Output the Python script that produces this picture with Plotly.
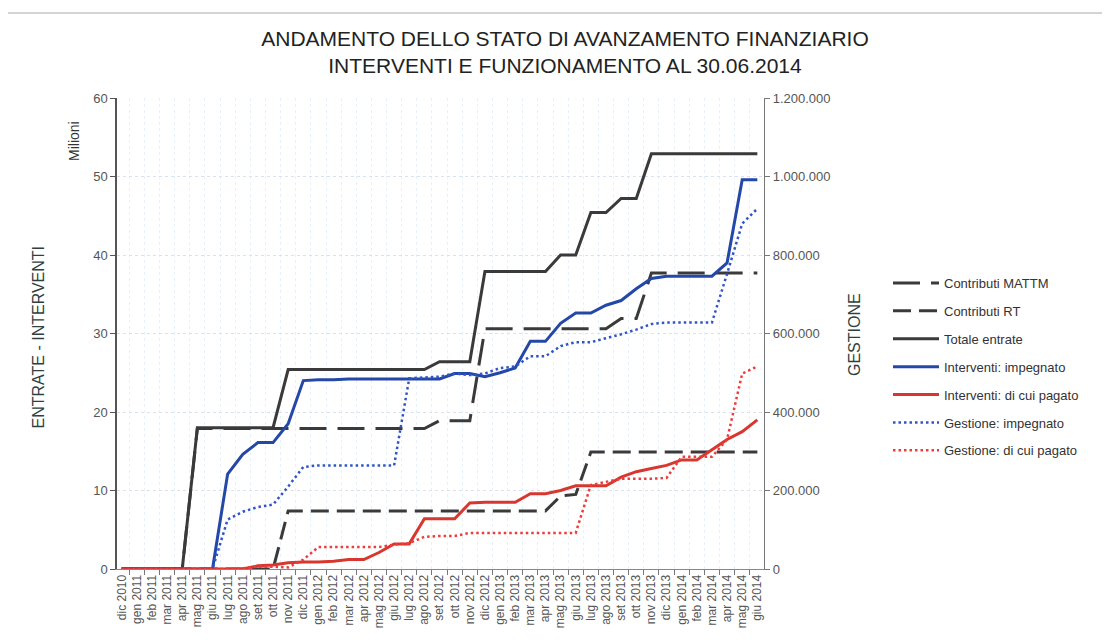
import plotly.graph_objects as go

months = ["dic 2010", "gen 2011", "feb 2011", "mar 2011", "apr 2011", "mag 2011", "giu 2011",
          "lug 2011", "ago 2011", "set 2011", "ott 2011", "nov 2011", "dic 2011",
          "gen 2012", "feb 2012", "mar 2012", "apr 2012", "mag 2012", "giu 2012",
          "lug 2012", "ago 2012", "set 2012", "ott 2012", "nov 2012", "dic 2012",
          "gen 2013", "feb 2013", "mar 2013", "apr 2013", "mag 2013", "giu 2013",
          "lug 2013", "ago 2013", "set 2013", "ott 2013", "nov 2013", "dic 2013",
          "gen 2014", "feb 2014", "mar 2014", "apr 2014", "mag 2014", "giu 2014"]

# Left axis (milioni)
contributi_mattm = [0, 0, 0, 0, 0, 17.9, 17.9, 17.9, 17.9, 17.9, 17.9, 17.9, 17.9,
                    17.9, 17.9, 17.9, 17.9, 17.9, 17.9, 17.9, 17.9, 18.9, 18.9, 18.9, 30.6,
                    30.6, 30.6, 30.6, 30.6, 30.6, 30.6, 30.6, 30.6, 31.9, 31.9, 37.7, 37.7,
                    37.7, 37.7, 37.7, 37.7, 37.7, 37.7]
contributi_rt = [0, 0, 0, 0, 0, 0, 0, 0, 0, 0, 0, 7.4, 7.4,
                 7.4, 7.4, 7.4, 7.4, 7.4, 7.4, 7.4, 7.4, 7.4, 7.4, 7.4, 7.4,
                 7.4, 7.4, 7.4, 7.4, 9.3, 9.5, 14.9, 14.9, 14.9, 14.9, 14.9, 14.9,
                 14.9, 14.9, 14.9, 14.9, 14.9, 14.9]
totale_entrate = [0, 0, 0, 0, 0, 18.0, 18.0, 18.0, 18.0, 18.0, 18.0, 25.4, 25.4,
                  25.4, 25.4, 25.4, 25.4, 25.4, 25.4, 25.4, 25.4, 26.4, 26.4, 26.4, 37.9,
                  37.9, 37.9, 37.9, 37.9, 40.0, 40.0, 45.4, 45.4, 47.2, 47.2, 52.9, 52.9,
                  52.9, 52.9, 52.9, 52.9, 52.9, 52.9]
interventi_impegnato = [0, 0, 0, 0, 0, 0, 0, 12.1, 14.6, 16.1, 16.1, 18.5, 24.0,
                        24.1, 24.1, 24.2, 24.2, 24.2, 24.2, 24.2, 24.2, 24.2, 24.9, 24.9, 24.5,
                        25.0, 25.6, 29.0, 29.0, 31.3, 32.6, 32.6, 33.6, 34.2, 35.7, 37.0, 37.3,
                        37.3, 37.3, 37.3, 39.0, 49.6, 49.6]
interventi_pagato = [0, 0, 0, 0, 0, 0, 0, 0, 0, 0.4, 0.5, 0.8, 0.9,
                     0.9, 1.0, 1.2, 1.2, 2.1, 3.2, 3.2, 6.4, 6.4, 6.4, 8.4, 8.5,
                     8.5, 8.5, 9.6, 9.6, 10.0, 10.6, 10.6, 10.6, 11.7, 12.4, 12.8, 13.2,
                     13.9, 13.9, 15.2, 16.5, 17.5, 19.0]
# Right axis (gestione)
gestione_impegnato = [0, 0, 0, 0, 0, 0, 0, 126000, 146000, 158000, 164000, 210000, 260000,
                      264000, 264000, 264000, 264000, 264000, 264000, 486000, 488000, 490000, 498000, 494000, 498000,
                      512000, 516000, 542000, 542000, 568000, 578000, 578000, 588000, 598000, 610000, 624000, 628000,
                      628000, 628000, 628000, 752000, 880000, 918000]
gestione_pagato = [0, 0, 0, 0, 0, 0, 0, 0, 2000, 6000, 6000, 4000, 24000,
                   56000, 56000, 56000, 56000, 56000, 62000, 66000, 82000, 84000, 84000, 92000, 92000,
                   92000, 92000, 92000, 92000, 92000, 92000, 214000, 222000, 230000, 230000, 230000, 232000,
                   286000, 286000, 286000, 330000, 498000, 516000]

left_ticks = [0, 10, 20, 30, 40, 50, 60]
right_ticks = [0, 200000, 400000, 600000, 800000, 1000000, 1200000]
right_ticktext = ["0", "200.000", "400.000", "600.000", "800.000", "1.000.000", "1.200.000"]

GRAY = "#3a3a3a"
BLUE = "#2448a8"
RED = "#d8372f"
BLUE_DOT = "#2f55c8"
RED_DOT = "#ee3b3b"

# page is drawn with an 8px body margin; compensate so the plot area lands where the reference has it
OFF = 8
PL, PR, PT, PB = 117, 764, 98, 569      # plot area in screen pixels
W, H = 1110 - OFF, 642 - OFF
PW, PH = PR - PL, PB - PT


def px(xs):
    return (xs - PL) / PW


def py(ys):
    return (PB - ys) / PH


fig = go.Figure()
series = [
    ("Contributi MATTM", contributi_mattm, "y", GRAY, 3, "27px,11px"),
    ("Contributi RT", contributi_rt, "y", GRAY, 3, "18px,8px"),
    ("Totale entrate", totale_entrate, "y", GRAY, 3, "solid"),
    ("Interventi: impegnato", interventi_impegnato, "y", BLUE, 3, "solid"),
    ("Interventi: di cui pagato", interventi_pagato, "y", RED, 3, "solid"),
    ("Gestione: impegnato", gestione_impegnato, "y2", BLUE_DOT, 2.5, "2.5px,3px"),
    ("Gestione: di cui pagato", gestione_pagato, "y2", RED_DOT, 2.5, "2.5px,3px"),
]
for name, vals, ax, col, w, dash in series:
    fig.add_trace(go.Scatter(
        x=months, y=vals, name=name, yaxis=ax, mode="lines",
        line=dict(color=col, width=w, dash=dash),
        legendgroup=name,
    ))

FONT = "Liberation Sans, Arial, sans-serif"
tick_font = dict(family=FONT, size=13, color="#555555")

fig.update_layout(
    width=W, height=H,
    paper_bgcolor="white", plot_bgcolor="white",
    margin=dict(l=PL - OFF, r=W - (PR - OFF), t=PT - OFF, b=H - (PB - OFF)),
    title=dict(
        text="ANDAMENTO DELLO STATO DI AVANZAMENTO FINANZIARIO<br>INTERVENTI E FUNZIONAMENTO AL 30.06.2014",
        x=(565 - OFF) / W, xanchor="center", xref="container",
        y=0.940, yanchor="top", yref="container",
        font=dict(family=FONT, size=21, color="#222222"),
    ),
    xaxis=dict(
        type="category", range=[-0.31, 42.44],
        tickangle=-90, tickfont=dict(family=FONT, size=12, color="#555555"),
        tickson="boundaries", ticks="outside", ticklen=5, tickcolor="#777777",
        showline=True, linecolor="#888888", linewidth=1,
        showgrid=True, gridcolor="#eaf0f7", griddash="dot", gridwidth=1,
        zeroline=False,
    ),
    yaxis=dict(
        range=[0, 60], tickvals=left_ticks, tickfont=tick_font,
        ticks="outside", ticklen=5, tickcolor="#555555",
        showline=True, linecolor="#555555", linewidth=1.5,
        showgrid=True, gridcolor="#d8e2f0", griddash="dot", gridwidth=1,
        zeroline=False,
    ),
    yaxis2=dict(
        range=[0, 1200000], overlaying="y", side="right",
        tickvals=right_ticks, ticktext=right_ticktext, tickfont=tick_font,
        ticks="outside", ticklen=5, tickcolor="#777777",
        showline=True, linecolor="#777777", linewidth=1.2,
        showgrid=False, zeroline=False,
    ),
    legend=dict(
        x=px(888), xanchor="left", y=py(268), yanchor="top",
        font=dict(family=FONT, size=13, color="#333333"),
        tracegroupgap=8, itemwidth=46, bgcolor="rgba(0,0,0,0)",
    ),
    showlegend=True,
)

fig.add_annotation(text="Milioni", xref="paper", yref="paper",
                   x=px(74), y=py(141), xanchor="center", yanchor="middle",
                   textangle=-90, showarrow=False,
                   font=dict(family=FONT, size=14, color="#333333"))
fig.add_annotation(text="ENTRATE - INTERVENTI", xref="paper", yref="paper",
                   x=px(37.5), y=py(337), xanchor="center", yanchor="middle",
                   textangle=-90, showarrow=False,
                   font=dict(family=FONT, size=16, color="#2f3f3f"))
fig.add_annotation(text="GESTIONE", xref="paper", yref="paper",
                   x=px(854), y=py(335), xanchor="center", yanchor="middle",
                   textangle=-90, showarrow=False,
                   font=dict(family=FONT, size=16, color="#2f3f3f"))

# outer chart border (top and left edges visible in reference)
fig.add_shape(type="line", xref="paper", yref="paper",
              x0=px(5), x1=px(1110), y0=py(13), y1=py(13),
              line=dict(color="#aaaaaa", width=1))
fig.add_shape(type="line", xref="paper", yref="paper",
              x0=px(5), x1=px(5), y0=py(13), y1=py(642),
              line=dict(color="#cccccc", width=1))

fig.write_html("out.html")
